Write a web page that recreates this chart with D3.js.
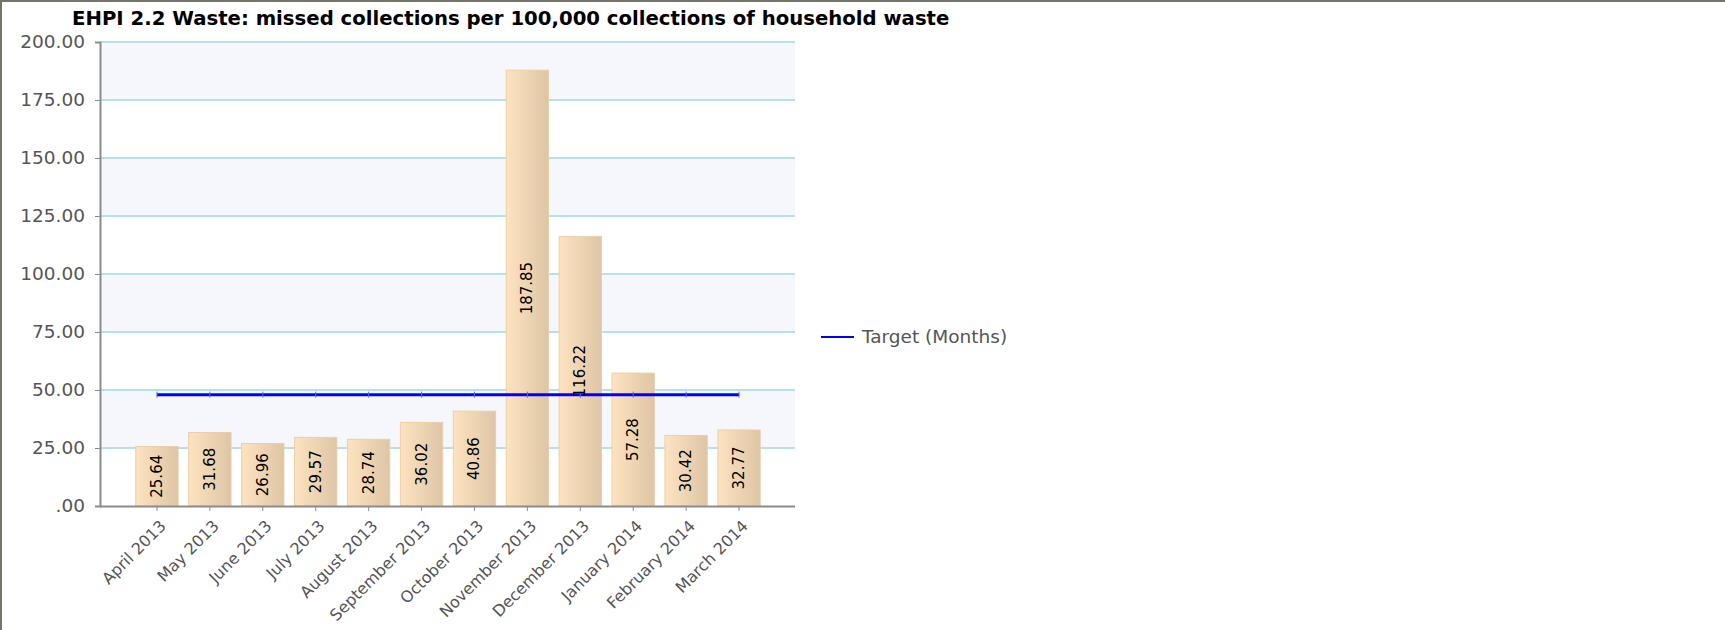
<!DOCTYPE html>
<html>
<head>
<meta charset="utf-8">
<script src="https://cdn.jsdelivr.net/npm/d3@7"></script>
<style>
  body { margin: 0; background: #fff; }
  svg { display: block; font-family: "DejaVu Sans", Verdana, sans-serif; }
</style>
</head>
<body>
<div id="chart"></div>
<script>
// data
const months = ['April 2013', 'May 2013', 'June 2013', 'July 2013', 'August 2013', 'September 2013',
  'October 2013', 'November 2013', 'December 2013', 'January 2014', 'February 2014', 'March 2014']
const missed = [25.64, 31.68, 26.96, 29.57, 28.74, 36.02, 40.86, 187.85, 116.22, 57.28, 30.42, 32.77]
const target = [48, 48, 48, 48, 48, 48, 48, 48, 48, 48, 48, 48]
const yTicks = [0, 25, 50, 75, 100, 125, 150, 175, 200]
const titleText = 'EHPI 2.2 Waste: missed collections per 100,000 collections of household waste'
const legendText = 'Target (Months)'

const svgWidth = 1725,
  svgHeight = 630,
  plot = { left: 100, right: 795, top: 42, bottom: 506 }

const svg = d3.select('#chart').append('svg')
  .attr('width', svgWidth)
  .attr('height', svgHeight)

// frame (only top + left edges are visible)
svg.append('line').attr('x1', 0).attr('x2', svgWidth).attr('y1', 1).attr('y2', 1)
  .attr('stroke', '#74766a').attr('stroke-width', 2)
svg.append('line').attr('x1', 1).attr('x2', 1).attr('y1', 0).attr('y2', svgHeight)
  .attr('stroke', '#74766a').attr('stroke-width', 2)

// title, fitted to the width seen in the picture
const title = svg.append('text')
  .attr('x', 72)
  .attr('y', 25)
  .attr('font-weight', 'bold')
  .attr('font-size', 18)
  .attr('fill', '#000')
  .text(titleText)
let tw = title.node().getComputedTextLength()
title.attr('font-size', 18 * 878 / tw)

const y = d3.scaleLinear()
  .domain([0, 200])
  .range([plot.bottom, plot.top])

const x = d3.scaleBand()
  .domain(months)
  .range([130.5, 765.5])
  .paddingInner(0.2)
  .paddingOuter(0.1)

// alternate background bands
const bands = yTicks.slice(0, -1).filter((d, i) => i % 2 === 1)
svg.append('g').selectAll('rect')
  .data(bands)
  .enter()
  .append('rect')
  .attr('x', plot.left)
  .attr('width', plot.right - plot.left)
  .attr('y', d => y(d + 25))
  .attr('height', d => y(d) - y(d + 25))
  .attr('fill', '#f5f7fd')

// gridlines
svg.append('g').selectAll('line')
  .data(yTicks.slice(1))
  .enter()
  .append('line')
  .attr('x1', plot.left)
  .attr('x2', plot.right)
  .attr('y1', d => y(d))
  .attr('y2', d => y(d))
  .attr('stroke', '#b7e1e9')
  .attr('stroke-width', 2)

// bar gradient
const grad = svg.append('defs').append('linearGradient')
  .attr('id', 'barFill')
  .attr('x1', '0%').attr('x2', '100%').attr('y1', '0%').attr('y2', '0%')
grad.append('stop').attr('offset', '0%').attr('stop-color', '#fde3c0')
grad.append('stop').attr('offset', '100%').attr('stop-color', '#dec5a5')

svg.append('g').selectAll('rect')
  .data(missed)
  .enter()
  .append('rect')
  .attr('x', (d, i) => x(months[i]))
  .attr('width', x.bandwidth())
  .attr('y', d => y(d))
  .attr('height', d => y(0) - y(d))
  .attr('fill', 'url(#barFill)')
  .attr('stroke', '#ebcfa8')
  .attr('stroke-width', 1)

// axes
const leftAxis = d3.axisLeft(y)
  .tickValues(yTicks)
  .tickSize(5)
  .tickPadding(10)
  .tickFormat(d => d === 0 ? '.00' : d3.format('.2f')(d))

const yAxis = svg.append('g')
  .attr('transform', `translate(${plot.left}, 0)`)
  .call(leftAxis)
yAxis.select('.domain').attr('stroke', '#8c8c8c').attr('stroke-width', 2)
yAxis.selectAll('.tick line').attr('stroke', '#8c8c8c')
yAxis.selectAll('text')
  .attr('font-size', 18.5)
  .attr('font-family', '"DejaVu Sans", sans-serif')
  .attr('fill', '#555')

const bottomAxis = d3.axisBottom(x)
  .tickSize(5)
  .tickSizeOuter(0)

const xAxis = svg.append('g')
  .attr('transform', `translate(0, ${plot.bottom})`)
  .call(bottomAxis)
xAxis.select('.domain')
  .attr('d', `M${plot.left},0.5H${plot.right}`)
  .attr('stroke', '#8c8c8c').attr('stroke-width', 2)
xAxis.selectAll('.tick line').attr('stroke', '#8c8c8c')
xAxis.selectAll('text')
  .attr('font-size', 16)
  .attr('font-family', '"DejaVu Sans", sans-serif')
  .attr('fill', '#555')
  .attr('text-anchor', 'end')
  .attr('y', 0)
  .attr('dy', 0)
  .attr('transform', 'translate(10, 21) rotate(-45)')

// target line
const cx = m => x(m) + x.bandwidth() / 2
const targetLine = d3.line()
  .x((d, i) => cx(months[i]))
  .y(d => y(d))

svg.append('path')
  .datum(target)
  .attr('d', targetLine)
  .attr('fill', 'none')
  .attr('stroke', '#0000ff')
  .attr('stroke-width', 3)

svg.append('g').selectAll('line')
  .data(target)
  .enter()
  .append('line')
  .attr('x1', (d, i) => cx(months[i]))
  .attr('x2', (d, i) => cx(months[i]))
  .attr('y1', d => y(d) - 3)
  .attr('y2', d => y(d) + 3)
  .attr('stroke', '#6060ff')
  .attr('stroke-width', 1)

// bar value labels
svg.append('g').selectAll('text')
  .data(missed)
  .enter()
  .append('text')
  .attr('transform', (d, i) => `translate(${cx(months[i]) + 5}, ${(y(d) + y(0)) / 2}) rotate(-90)`)
  .attr('text-anchor', 'middle')
  .attr('font-size', 15)
  .attr('fill', '#000')
  .text(d => d3.format('.2f')(d))

// legend
svg.append('line')
  .attr('x1', 821).attr('x2', 854)
  .attr('y1', 337).attr('y2', 337)
  .attr('stroke', '#0000ff')
  .attr('stroke-width', 2)
svg.append('text')
  .attr('x', 862)
  .attr('y', 343)
  .attr('font-size', 18.5)
  .attr('fill', '#555')
  .text(legendText)
</script>
</body>
</html>
